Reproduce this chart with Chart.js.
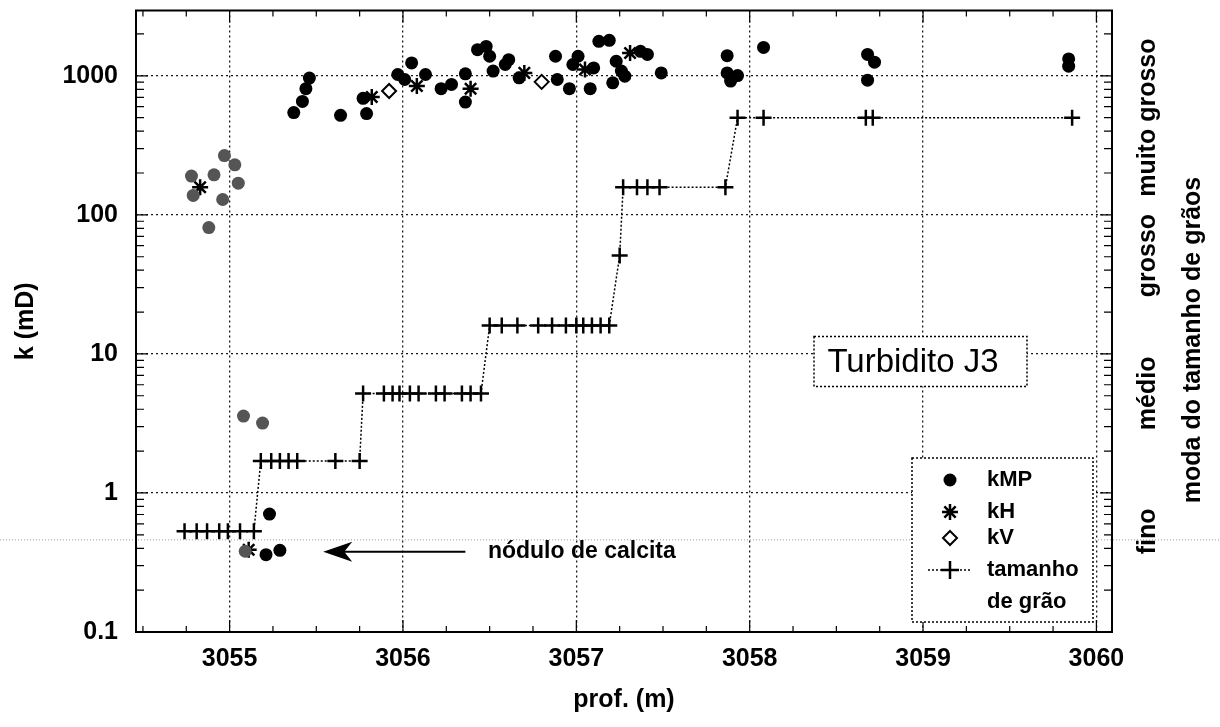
<!DOCTYPE html>
<html>
<head>
<meta charset="utf-8">
<script src="https://cdn.jsdelivr.net/npm/chart.js"></script>
<style>
  html, body { margin: 0; padding: 0; background: #fff; }
  canvas { display: block; }
</style>
</head>
<body>
<canvas id="myChart" width="1220" height="727"></canvas>
<script>
// kMP - minipermeameter readings (depth in m, k in mD)
const kmpDepth = [
    3054.78, 3054.91, 3054.97, 3055.03, 3055.05, 3054.79, 3054.96, 3054.88,
    3055.08, 3055.19, 3055.23, 3055.09, 3055.21, 3055.29,
    3055.37, 3055.42, 3055.44, 3055.46, 3055.64, 3055.79, 3055.77,
    3055.97, 3056.05, 3056.01, 3056.13, 3056.22, 3056.28, 3056.36, 3056.36,
    3056.43, 3056.48, 3056.50, 3056.52, 3056.59, 3056.61, 3056.67,
    3056.89, 3056.88, 3056.96, 3056.98, 3057.01, 3057.10, 3057.08,
    3057.13, 3057.19, 3057.23, 3057.21, 3057.26, 3057.28, 3057.37, 3057.41, 3057.49,
    3057.87, 3057.87, 3057.89, 3057.93, 3058.08,
    3058.68, 3058.72, 3058.68,
    3059.84, 3059.84
];
const kmpK = [
    190, 194, 267, 229, 169, 138, 129, 81,
    3.57, 3.18, 0.705, 0.381, 0.36, 0.387,
    544, 655, 808, 963, 520, 535, 689,
    1022, 1238, 941, 1022, 808, 867, 1033, 647,
    1542, 1628, 1383, 1081, 1206, 1307, 968,
    941, 1383, 808, 1206, 1383, 1140, 808,
    1770, 1800, 1273, 891, 1081, 995, 1500, 1426, 1050,
    1396, 1050, 916, 1004, 1600,
    1426, 1253, 931,
    1322, 1173
];

// kH - horizontal plug permeability
const khDepth = [3054.83, 3055.11, 3055.82, 3056.08, 3056.39, 3056.70, 3057.05, 3057.31];
const khK = [158, 0.39, 705, 844, 808, 1050, 1110, 1459];

// kV - vertical plug permeability
const kvDepth = [3055.92, 3056.80];
const kvK = [778, 905];

// grain size mode, plotted on the same log axis
const grainDepth = [
    3054.74, 3054.81, 3054.87, 3054.94, 3054.99, 3055.06, 3055.14,
    3055.18, 3055.24, 3055.29, 3055.34, 3055.39, 3055.61, 3055.75,
    3055.77, 3055.89, 3055.94, 3055.98, 3056.04, 3056.09, 3056.19, 3056.24, 3056.34, 3056.39, 3056.45,
    3056.50, 3056.57, 3056.66, 3056.78, 3056.86, 3056.94, 3057.00, 3057.04, 3057.09, 3057.14, 3057.19,
    3057.25,
    3057.27, 3057.35, 3057.41, 3057.48, 3057.86,
    3057.93, 3058.08, 3058.67, 3058.71, 3059.86
];
const grainK = [
    0.53, 0.53, 0.53, 0.53, 0.53, 0.53, 0.53,
    1.7, 1.7, 1.7, 1.7, 1.7, 1.7, 1.7,
    5.2, 5.2, 5.2, 5.2, 5.2, 5.2, 5.2, 5.2, 5.2, 5.2, 5.2,
    16, 16, 16, 16, 16, 16, 16, 16, 16, 16, 16,
    51,
    158, 158, 158, 158, 158,
    500, 500, 500, 500, 500
];

const depthTicks = [3055, 3056, 3057, 3058, 3059, 3060];
const kTicks = [0.1, 1, 10, 100, 1000];

// grain classes on the right side, centred on their k level
const grainLevels = [0.53, 5.2, 51, 500];
const grainClasses = ['fino', 'médio', 'grosso', 'muito grosso'];

const legendLabels = ['kMP', 'kH', 'kV', 'tamanho', 'de grão'];
const boxTitle = 'Turbidito J3';
const noteText = 'nódulo de calcita';
const noteK = 0.378;
const noteFrom = 3056.36;
const noteTo = 3055.54;
const noteTextAt = 3056.49;
const scanLineK = 0.46; // faint line left by the scanner

const FONT = "'Liberation Sans', Arial, Helvetica, sans-serif";

function toPoints(xs, ys) {
    return xs.map((x, i) => ({ x, y: ys[i] }));
}

function dottedRect(ctx, x, y, w, h) {
    ctx.save();
    ctx.fillStyle = '#fff';
    ctx.fillRect(x, y, w, h);
    ctx.setLineDash([2, 2]);
    ctx.lineWidth = 1.5;
    ctx.strokeStyle = '#000';
    ctx.strokeRect(x, y, w, h);
    ctx.restore();
}

function drawStar(ctx, cx, cy, r) {
    ctx.beginPath();
    for (let a = 0; a < 4; a++) {
        const ang = a * Math.PI / 4;
        ctx.moveTo(cx - r * Math.cos(ang), cy - r * Math.sin(ang));
        ctx.lineTo(cx + r * Math.cos(ang), cy + r * Math.sin(ang));
    }
    ctx.stroke();
}

const decorations = {
    id: 'decorations',
    beforeDraw(chart) {
        const ctx = chart.ctx;
        ctx.save();
        ctx.fillStyle = '#fff';
        ctx.fillRect(0, 0, chart.width, chart.height);
        ctx.restore();
    },
    afterDatasetsDraw(chart) {
        const { ctx, chartArea: ca, scales: { x, y } } = chart;
        ctx.save();

        // scanner artefact across the page
        const sy = y.getPixelForValue(scanLineK);
        ctx.strokeStyle = '#999';
        ctx.lineWidth = 1;
        ctx.setLineDash([1, 2]);
        ctx.beginPath();
        ctx.moveTo(0, sy);
        ctx.lineTo(chart.width, sy);
        ctx.stroke();
        ctx.setLineDash([]);

        // minor ticks, mirrored on all sides
        ctx.strokeStyle = '#000';
        ctx.lineWidth = 1.2;
        ctx.beginPath();
        kTicks.forEach(d => {
            for (let m = 2; m <= 9; m++) {
                const v = d * m;
                if (v > y.max) continue;
                const py = y.getPixelForValue(v);
                ctx.moveTo(ca.left, py); ctx.lineTo(ca.left + 8, py);
                ctx.moveTo(ca.right, py); ctx.lineTo(ca.right - 8, py);
            }
        });
        kTicks.forEach(v => {
            const py = y.getPixelForValue(v);
            ctx.moveTo(ca.left, py); ctx.lineTo(ca.left + 12, py);
            ctx.moveTo(ca.right, py); ctx.lineTo(ca.right - 12, py);
        });
        for (let v = 3054.5; v < x.max; v += 0.25) {
            const px = x.getPixelForValue(v);
            const len = Number.isInteger(v) ? 12 : 6;
            ctx.moveTo(px, ca.bottom); ctx.lineTo(px, ca.bottom - len);
            ctx.moveTo(px, ca.top); ctx.lineTo(px, ca.top + len);
        }
        ctx.stroke();

        // frame
        ctx.lineWidth = 2;
        ctx.strokeRect(ca.left, ca.top, ca.right - ca.left, ca.bottom - ca.top);

        // arrow pointing at the calcite nodule
        const ay = y.getPixelForValue(noteK);
        const ax0 = x.getPixelForValue(noteFrom);
        const ax1 = x.getPixelForValue(noteTo);
        ctx.lineWidth = 2;
        ctx.beginPath();
        ctx.moveTo(ax0, ay);
        ctx.lineTo(ax1 + 20, ay);
        ctx.stroke();
        ctx.fillStyle = '#000';
        ctx.beginPath();
        ctx.moveTo(ax1, ay);
        ctx.lineTo(ax1 + 29, ay - 10);
        ctx.lineTo(ax1 + 21, ay);
        ctx.lineTo(ax1 + 29, ay + 10);
        ctx.closePath();
        ctx.fill();
        ctx.font = 'bold 23px ' + FONT;
        ctx.textAlign = 'left';
        ctx.textBaseline = 'middle';
        ctx.fillText(noteText, x.getPixelForValue(noteTextAt), ay);

        // "Turbidito J3" box
        const tbLeft = ca.right - 298, tbTop = ca.top + 326;
        dottedRect(ctx, tbLeft, tbTop, 213, 50);
        ctx.fillStyle = '#000';
        ctx.font = '33px ' + FONT;
        ctx.textAlign = 'center';
        ctx.fillText(boxTitle, tbLeft + 99, tbTop + 26);

        // legend
        const lgRight = ca.right - 19, lgBottom = ca.bottom - 10;
        const lgLeft = lgRight - 181, lgTop = lgBottom - 164;
        dottedRect(ctx, lgLeft, lgTop, 181, 164);
        const mx = lgLeft + 38, tx = lgLeft + 75;
        const rows = [22, 54, 80, 112, 144].map(d => lgTop + d);
        ctx.fillStyle = '#000';
        ctx.strokeStyle = '#000';
        ctx.beginPath();
        ctx.arc(mx, rows[0], 6.5, 0, Math.PI * 2);
        ctx.fill();
        ctx.lineWidth = 2.5;
        drawStar(ctx, mx, rows[1], 8);
        ctx.lineWidth = 2;
        ctx.beginPath();
        ctx.moveTo(mx, rows[2] - 7); ctx.lineTo(mx + 7, rows[2]);
        ctx.lineTo(mx, rows[2] + 7); ctx.lineTo(mx - 7, rows[2]);
        ctx.closePath();
        ctx.stroke();
        ctx.lineWidth = 1.5;
        ctx.setLineDash([2, 2]);
        ctx.beginPath();
        ctx.moveTo(mx - 22, rows[3]); ctx.lineTo(mx + 22, rows[3]);
        ctx.stroke();
        ctx.setLineDash([]);
        ctx.lineWidth = 2.5;
        ctx.beginPath();
        ctx.moveTo(mx - 9, rows[3]); ctx.lineTo(mx + 9, rows[3]);
        ctx.moveTo(mx, rows[3] - 9); ctx.lineTo(mx, rows[3] + 9);
        ctx.stroke();
        ctx.font = 'bold 22px ' + FONT;
        ctx.textAlign = 'left';
        ctx.textBaseline = 'middle';
        legendLabels.forEach((t, i) => ctx.fillText(t, tx, rows[i]));

        // grain size classes on the right, read bottom to top
        ctx.font = 'bold 25px ' + FONT;
        ctx.textAlign = 'center';
        grainLevels.forEach((v, i) => {
            ctx.save();
            ctx.translate(ca.right + 36, y.getPixelForValue(v));
            ctx.rotate(-Math.PI / 2);
            ctx.fillText(grainClasses[i], 0, 0);
            ctx.restore();
        });
        ctx.save();
        ctx.translate(ca.right + 81, 340);
        ctx.rotate(-Math.PI / 2);
        ctx.fillText('moda do tamanho de grãos', 0, 0);
        ctx.restore();

        ctx.restore();
    }
};

const gridOpts = { color: 'rgba(0,0,0,0.9)', lineWidth: 1.3, drawTicks: false };
const borderOpts = { display: false, dash: [2, 3] };
const labelFont = { family: FONT, size: 25, weight: 'bold' };

new Chart(document.getElementById('myChart').getContext('2d'), {
    type: 'scatter',
    data: {
        datasets: [
            {
                label: 'kMP',
                data: toPoints(kmpDepth, kmpK),
                pointStyle: 'circle',
                pointRadius: 6.5,
                borderWidth: 0,
                backgroundColor: c => (c.raw && c.raw.x < 3055.2 ? '#555' : '#000')
            },
            {
                label: 'kH',
                data: toPoints(khDepth, khK),
                pointStyle: 'star',
                pointRadius: 8,
                borderWidth: 2.5,
                borderColor: '#000'
            },
            {
                label: 'kV',
                data: toPoints(kvDepth, kvK),
                pointStyle: 'rectRot',
                pointRadius: 7,
                borderWidth: 2,
                borderColor: '#000',
                backgroundColor: '#fff'
            },
            {
                label: 'tamanho de grão',
                data: toPoints(grainDepth, grainK),
                showLine: true,
                borderColor: '#000',
                borderWidth: 1.5,
                borderDash: [2, 2],
                pointStyle: 'cross',
                pointRadius: 8,
                pointBorderWidth: 2.5,
                pointBorderColor: '#000'
            }
        ]
    },
    options: {
        responsive: false,
        animation: false,
        layout: { padding: { top: 7, right: 108, left: 0, bottom: 0 } },
        plugins: { legend: { display: false }, tooltip: { enabled: false } },
        scales: {
            x: {
                type: 'linear',
                min: 3054.46,
                max: 3060.09,
                afterBuildTicks: s => { s.ticks = depthTicks.map(v => ({ value: v })); },
                afterFit: s => { s.height = 95; s.paddingLeft = 0; s.paddingRight = 0; },
                grid: gridOpts,
                border: borderOpts,
                ticks: {
                    color: '#000',
                    padding: 12,
                    font: labelFont,
                    callback: v => String(v)
                },
                title: {
                    display: true,
                    text: 'prof. (m)',
                    color: '#000',
                    font: labelFont,
                    padding: { top: 0, bottom: 12 }
                }
            },
            y: {
                type: 'logarithmic',
                min: 0.1,
                max: 2950,
                afterBuildTicks: s => { s.ticks = kTicks.map(v => ({ value: v })); },
                afterFit: s => { s.width = 136; s.paddingTop = 0; s.paddingBottom = 0; },
                grid: gridOpts,
                border: borderOpts,
                ticks: {
                    color: '#000',
                    padding: 18,
                    font: labelFont,
                    callback: v => String(v)
                },
                title: {
                    display: true,
                    text: 'k (mD)',
                    color: '#000',
                    font: labelFont,
                    padding: { top: 11, bottom: 0 }
                }
            }
        }
    },
    plugins: [decorations]
});
</script>
</body>
</html>
